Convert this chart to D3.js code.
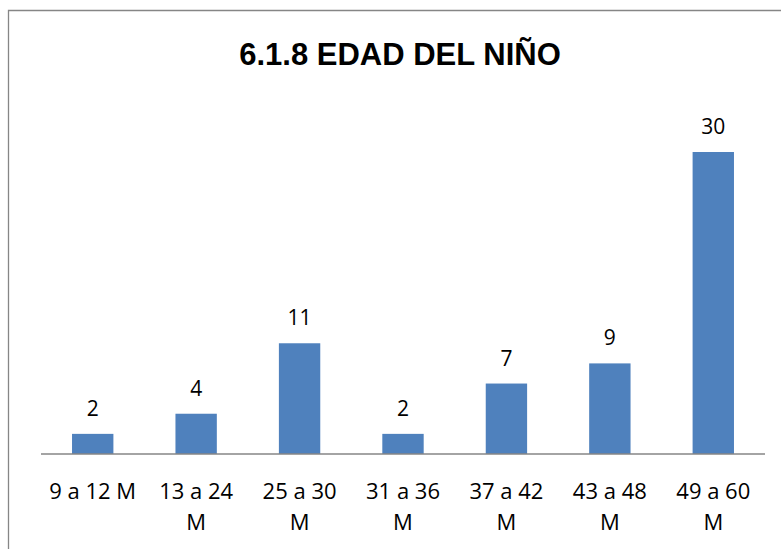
<!DOCTYPE html>
<html><head><meta charset="utf-8">
<script src="https://cdn.jsdelivr.net/npm/d3@7"></script>
<style>body{margin:0;background:#fff}svg{display:block}</style>
</head><body>
<svg id="c" width="781" height="549"></svg>
<script>
const categories = ["9 a 12 M","13 a 24 M","25 a 30 M","31 a 36 M","37 a 42 M","43 a 48 M","49 a 60 M"];
const values = [2,4,11,2,7,9,30];
const title = "6.1.8 EDAD DEL NIÑO";

const svg = d3.select("#c");
const font = "'Open Sans', 'Noto Sans', sans-serif";
// frame
svg.append("path").attr("d","M8.5,549 V10.5 H781").attr("fill","none").attr("stroke","#868686").attr("stroke-width",1.3);

svg.append("text").attr("x",400).attr("y",65).attr("text-anchor","middle")
  .attr("font-family","'Liberation Sans', Arial, sans-serif").attr("font-weight","bold")
  .attr("font-size",31).attr("fill","#000").text(title);

const x = d3.scaleBand().domain(categories).range([41,765]).paddingInner(0.6).paddingOuter(0.3);
const y = d3.scaleLinear().domain([0,30]).range([454,152]);

svg.selectAll("rect.bar").data(values).join("rect").attr("class","bar")
  .attr("x",(d,i)=>x(categories[i])).attr("width",x.bandwidth())
  .attr("y",d=>y(d)).attr("height",d=>y(0)-y(d)).attr("fill","#4F81BD");

svg.selectAll("text.val").data(values).join("text").attr("class","val")
  .attr("x",(d,i)=>x(categories[i])+x.bandwidth()/2).attr("y",d=>y(d)-18)
  .attr("text-anchor","middle").attr("font-family",font).attr("font-size",21).attr("fill","#000").text(d=>d);

const xAxis = d3.axisBottom(x).tickSize(0).tickPadding(0);
const ax = svg.append("g").attr("transform","translate(0,454)").call(xAxis);
ax.select(".domain").attr("stroke","#868686").attr("stroke-width",1.5).attr("d","M41,0H765");
ax.selectAll(".tick text").attr("font-family",font).attr("font-size",22).attr("fill","#000")
  .each(function(d){
    const t = d3.select(this);
    t.text(null);
    const parts = d.split(" ");
    const probe = t.append("tspan").text(d);
    const w = probe.node().getComputedTextLength();
    probe.remove();
    const step = x.step();
    let lines = w > step*0.9 ? [parts.slice(0,-1).join(" "), parts[parts.length-1]] : [d];
    lines.forEach((l,k)=>t.append("tspan").attr("x",0).attr("y",k===0?45:76).attr("dy",0).text(l));
  });
</script>
</body></html>
